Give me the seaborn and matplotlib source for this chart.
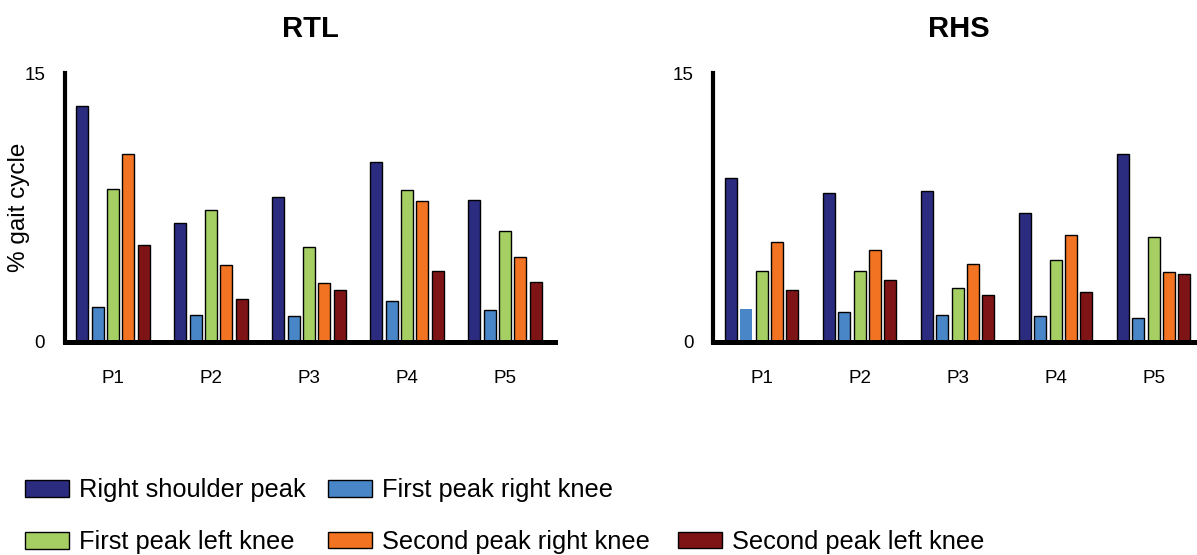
import matplotlib
matplotlib.use("Agg")
import matplotlib.pyplot as plt
import pandas as pd
import seaborn as sns

# Participants and timing measures (percentage of the gait cycle)
participants = ["P1", "P2", "P3", "P4", "P5"]
measures = [
    "Right shoulder peak",
    "First peak right knee",
    "First peak left knee",
    "Second peak right knee",
    "Second peak left knee",
]
conditions = ["RTL", "RHS"]

# RTL condition
rtl_shoulder = [13.16, 6.64, 8.07, 10.04, 7.92]
rtl_knee_r1 = [1.97, 1.50, 1.45, 2.30, 1.76]
rtl_knee_l1 = [8.52, 7.36, 5.32, 8.46, 6.19]
rtl_knee_r2 = [10.47, 4.28, 3.27, 7.86, 4.72]
rtl_knee_l2 = [5.39, 2.40, 2.90, 3.96, 3.33]

# RHS condition
rhs_shoulder = [9.15, 8.29, 8.44, 7.19, 10.46]
rhs_knee_r1 = [1.86, 1.65, 1.52, 1.47, 1.34]
rhs_knee_l1 = [3.96, 3.94, 3.03, 4.59, 5.83]
rhs_knee_r2 = [5.59, 5.11, 4.33, 5.95, 3.92]
rhs_knee_l2 = [2.88, 3.47, 2.64, 2.79, 3.77]

y_ticks = [0, 3, 6, 9, 12, 15]
y_ticklabels = ["0", "", "", "", "", "15"]

colors = ["#2b2c7f", "#4886c8", "#a5cf63", "#f27321", "#7f1416"]

series = {
    "RTL": [rtl_shoulder, rtl_knee_r1, rtl_knee_l1, rtl_knee_r2, rtl_knee_l2],
    "RHS": [rhs_shoulder, rhs_knee_r1, rhs_knee_l1, rhs_knee_r2, rhs_knee_l2],
}

rows = []
for cond in conditions:
    for meas, vals in zip(measures, series[cond]):
        for p, v in zip(participants, vals):
            rows.append({"condition": cond, "participant": p,
                         "measure": meas, "value": v})
df = pd.DataFrame(rows)

sns.set_theme(style="white")
plt.rcParams["font.family"] = ["Liberation Sans", "DejaVu Sans"]
plt.rcParams.update({
    "text.color": "black",
    "axes.labelcolor": "black",
    "axes.titlecolor": "black",
    "xtick.color": "black",
    "ytick.color": "black",
})

W, H = 1197, 555
fig = plt.figure(figsize=(W / 100, H / 100), dpi=100)
ax_left = fig.add_axes([64.5 / W, 213 / H, 491 / W, 269 / H])
ax_right = fig.add_axes([713 / W, 213 / H, 491 / W, 269 / H])

for ax, cond in zip([ax_left, ax_right], conditions):
    sns.barplot(
        data=df[df["condition"] == cond], x="participant", y="value",
        hue="measure", order=participants, hue_order=measures,
        palette=colors, saturation=1, width=0.78, gap=0.215,
        edgecolor="black", linewidth=1.0, errorbar=None, legend=False,
        ax=ax,
    )
    ax.set_xlim(-0.495, 4.515)
    ax.set_ylim(0, 15)
    ax.set_yticks(y_ticks)
    ax.set_yticklabels(y_ticklabels)
    ax.tick_params(axis="y", direction="in", length=3, width=2,
                   pad=14, labelsize=13.5, colors="black")
    ax.tick_params(axis="x", length=0, pad=20, labelsize=13.5, colors="black")
    for side in ("top", "right"):
        ax.spines[side].set_visible(False)
    ax.spines["left"].set_linewidth(3.0)
    ax.spines["bottom"].set_linewidth(3.6)
    ax.spines["left"].set_color("black")
    ax.spines["bottom"].set_color("black")
    ax.set_xlabel("")
    ax.set_ylabel("")
    ax.set_title(cond, fontsize=21, fontweight="bold", pad=26, color="black")

# the first right-knee bar of P1 in RHS has no outline
ax_right.containers[1][0].set_edgecolor("none")

ax_left.set_ylabel("% gait cycle", fontsize=17.5, color="black")
ax_left.yaxis.label.set_va("center")
ax_left.yaxis.set_label_coords(-0.092, 0.5)

# Legend laid out in two rows beneath the panels
handles = [c.patches[0] for c in ax_left.containers]
spots = [(25, 490.5), (328, 490.5), (25, 542.5), (328, 542), (678, 542)]
for h, lab, (px, py) in zip(handles, measures, spots):
    fig.legend([h], [lab], loc="center left",
               bbox_to_anchor=(px / W, 1 - py / H), frameon=False,
               borderpad=0, borderaxespad=0, handlelength=1.73,
               handleheight=0.6, handletextpad=0.4, fontsize=18.3,
               labelcolor="black")

fig.savefig("out.png", dpi=100)
